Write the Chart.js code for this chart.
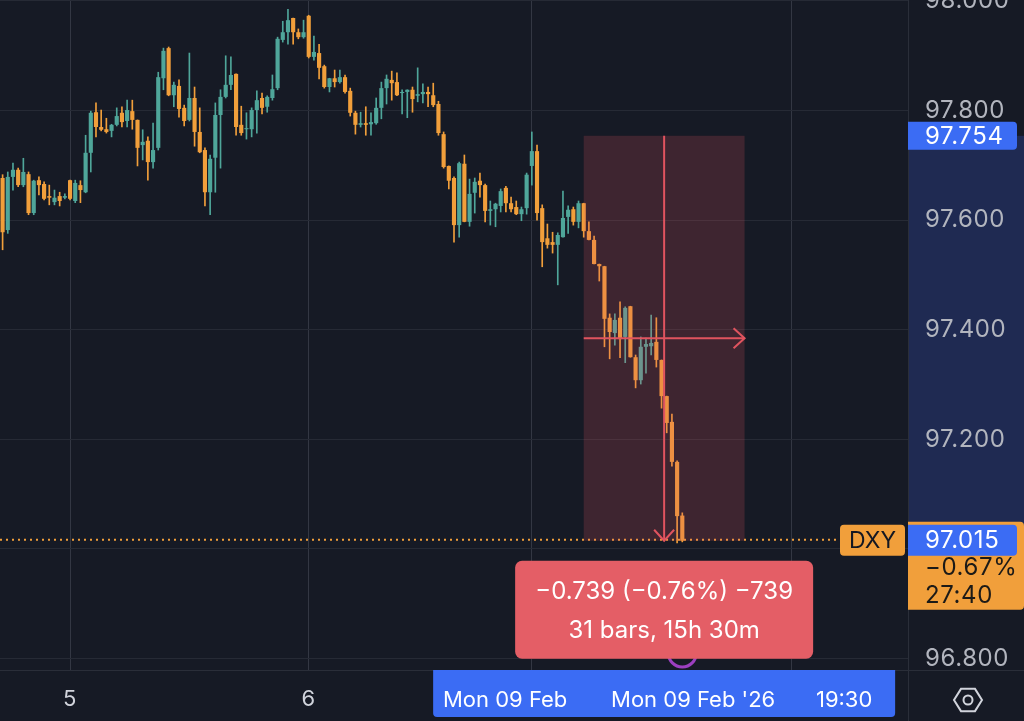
<!DOCTYPE html>
<html><head><meta charset="utf-8">
<script src="https://cdn.jsdelivr.net/npm/chart.js@4.4.1/dist/chart.umd.min.js"></script>
<style>html,body{margin:0;padding:0;background:#161a25;overflow:hidden}#wrap{width:1024px;height:721px;position:relative}</style>
</head><body><div id="wrap"><canvas id="c" width="1024" height="721"></canvas></div>
<script>
// ---- data (30-min DXY candles) ----
const opens = [97.677,97.582,97.679,97.692,97.664,97.684,97.613,97.673,97.666,97.644,
97.633,97.644,97.641,97.673,97.635,97.664,97.651,97.723,97.797,97.770,
97.766,97.763,97.774,97.796,97.781,97.799,97.783,97.737,97.745,97.706,
97.732,97.859,97.914,97.828,97.845,97.805,97.783,97.823,97.761,97.728,
97.651,97.714,97.792,97.825,97.847,97.867,97.774,97.766,97.766,97.801,
97.823,97.807,97.823,97.841,97.929,97.943,97.969,97.943,97.934,97.973,
97.898,97.905,97.881,97.843,97.859,97.852,97.861,97.836,97.796,97.774,
97.777,97.775,97.777,97.805,97.841,97.856,97.852,97.832,97.834,97.838,
97.827,97.830,97.834,97.828,97.812,97.757,97.699,97.677,97.591,97.703,
97.597,97.650,97.672,97.664,97.617,97.620,97.626,97.659,97.631,97.624,
97.611,97.622,97.699,97.726,97.622,97.567,97.560,97.555,97.569,97.606,
97.620,97.597,97.631,97.580,97.564,97.520,97.516,97.422,97.394,97.422,
97.387,97.443,97.350,97.308,97.369,97.370,97.378,97.345,97.279,97.232,97.159,97.061];
const highs = [97.683,97.688,97.704,97.695,97.713,97.688,97.673,97.679,97.670,97.664,
97.655,97.651,97.648,97.673,97.673,97.672,97.755,97.799,97.814,97.801,
97.786,97.775,97.805,97.807,97.819,97.819,97.783,97.765,97.752,97.777,
97.870,97.914,97.916,97.852,97.856,97.810,97.905,97.843,97.805,97.732,
97.719,97.814,97.838,97.900,97.898,97.867,97.808,97.796,97.805,97.836,
97.832,97.827,97.865,97.934,97.963,97.985,97.969,97.949,97.965,97.974,
97.936,97.921,97.883,97.859,97.874,97.874,97.865,97.841,97.799,97.797,
97.807,97.796,97.823,97.852,97.865,97.872,97.869,97.838,97.838,97.843,
97.878,97.849,97.843,97.850,97.817,97.761,97.699,97.679,97.706,97.719,
97.675,97.677,97.686,97.666,97.635,97.631,97.657,97.662,97.642,97.635,
97.624,97.686,97.761,97.737,97.628,97.593,97.578,97.577,97.653,97.626,
97.624,97.635,97.631,97.597,97.571,97.520,97.516,97.429,97.429,97.451,
97.442,97.443,97.354,97.387,97.385,97.427,97.422,97.345,97.279,97.246,97.161,97.066];
const lows = [97.546,97.576,97.655,97.661,97.661,97.610,97.610,97.646,97.637,97.628,
97.628,97.626,97.639,97.637,97.632,97.632,97.650,97.688,97.752,97.763,
97.759,97.752,97.772,97.770,97.770,97.766,97.699,97.710,97.673,97.695,
97.728,97.838,97.827,97.807,97.788,97.772,97.781,97.735,97.723,97.626,
97.610,97.651,97.695,97.823,97.838,97.755,97.755,97.748,97.752,97.759,
97.794,97.797,97.819,97.838,97.925,97.921,97.921,97.931,97.932,97.896,
97.892,97.858,97.841,97.834,97.843,97.850,97.832,97.790,97.757,97.770,
97.755,97.755,97.775,97.785,97.812,97.819,97.827,97.794,97.787,97.797,
97.816,97.814,97.807,97.807,97.755,97.695,97.657,97.560,97.569,97.597,
97.589,97.613,97.642,97.597,97.591,97.588,97.615,97.615,97.615,97.610,
97.599,97.611,97.664,97.600,97.515,97.549,97.540,97.482,97.569,97.576,
97.591,97.586,97.569,97.564,97.520,97.489,97.369,97.347,97.372,97.349,
97.340,97.350,97.294,97.301,97.321,97.354,97.332,97.257,97.212,97.151,97.011,97.013];
const closes = [97.578,97.679,97.692,97.664,97.688,97.613,97.672,97.664,97.639,97.641,
97.641,97.635,97.644,97.639,97.668,97.655,97.723,97.796,97.770,97.765,
97.761,97.774,97.790,97.779,97.801,97.783,97.732,97.743,97.706,97.728,
97.861,97.909,97.828,97.847,97.803,97.781,97.823,97.761,97.724,97.651,
97.712,97.792,97.825,97.847,97.865,97.770,97.759,97.768,97.801,97.819,
97.805,97.825,97.839,97.931,97.943,97.965,97.943,97.934,97.943,97.898,
97.907,97.878,97.843,97.859,97.852,97.861,97.834,97.796,97.774,97.777,
97.774,97.779,97.805,97.841,97.858,97.850,97.828,97.834,97.838,97.821,
97.830,97.834,97.830,97.810,97.759,97.697,97.672,97.591,97.704,97.597,
97.648,97.670,97.664,97.617,97.620,97.630,97.653,97.631,97.620,97.611,
97.620,97.683,97.726,97.613,97.560,97.555,97.555,97.573,97.604,97.619,
97.597,97.631,97.580,97.564,97.520,97.516,97.420,97.396,97.418,97.383,
97.440,97.350,97.308,97.369,97.374,97.376,97.345,97.279,97.230,97.159,97.060,97.015];

const totalSlots = 175;                 // bar slots visible across the plot (incl. empty future space)
const xGridIndex = [13, 59, 102, 152];  // day / session boundaries
const xTickLabels = ['5', '6', '', ''];
const yTickValues = [96.8, 97.0, 97.2, 97.4, 97.6, 97.8, 98.0];
const yMin = 96.7792, yMax = 98.0018;

const measureStartIdx = 112, measureEndIdx = 143;
const measureHigh = 97.754, measureLow = 97.015;
const measureText = ['\u22120.739 (\u22120.76%) \u2212739', '31 bars, 15h 30m'];
const lastPrice = 97.015;
const symbolName = 'DXY';
const changeText = ['\u22120.67%', '27:40'];
const timeLabels = ['Mon 09 Feb', "Mon 09 Feb '26", '19:30'];
const eventIdx = 131;

const UP = '#4fa69a', DOWN = '#f19f3b';
const FONT = 'Inter, "Noto Sans", sans-serif';
const PRICE_SIZE = 24;

const idx = opens.map((_, i) => i);
const colors = idx.map(i => closes[i] >= opens[i] ? UP : DOWN);

function rr(ctx, x, y, w, h, r) {
  ctx.beginPath();
  if (ctx.roundRect) ctx.roundRect(x, y, w, h, r); else ctx.rect(x, y, w, h);
}

const overlay = {
  id: 'overlay',
  beforeDraw(chart) {
    const {ctx, chartArea: a, scales: {y}} = chart;
    const y1 = y.getPixelForValue(measureHigh), y2 = y.getPixelForValue(measureLow);
    ctx.save();
    ctx.fillStyle = '#1f2a52';
    ctx.fillRect(a.right, y1, chart.width - a.right, y2 - y1);
    ctx.restore();
    ctx.letterSpacing = '0.6px';
  },
  afterDraw(chart) {
    const {ctx, chartArea: a, scales: {x, y}} = chart;
    const W = chart.width, H = chart.height;
    const xs = x.getPixelForValue(measureStartIdx), xe = x.getPixelForValue(measureEndIdx);
    const xm = (xs + xe) / 2;
    const yt = y.getPixelForValue(measureHigh), yb = y.getPixelForValue(measureLow);
    const ymid = (yt + yb) / 2;
    const yl = y.getPixelForValue(lastPrice);
    const dxyW = 65, dxyRight = a.right - 3, dxyLeft = dxyRight - dxyW;

    ctx.save();
    ctx.letterSpacing = '0px';
    // separators
    ctx.strokeStyle = '#2a2e39'; ctx.lineWidth = 1;
    ctx.beginPath(); ctx.moveTo(a.right + 0.5, a.bottom); ctx.lineTo(a.right + 0.5, H); ctx.stroke();
    ctx.beginPath(); ctx.moveTo(a.right, a.bottom + 0.5); ctx.lineTo(W, a.bottom + 0.5); ctx.stroke();

    // dotted last price line
    ctx.strokeStyle = DOWN; ctx.lineWidth = 2; ctx.setLineDash([2, 4]);
    ctx.beginPath(); ctx.moveTo(a.left, yl - 1); ctx.lineTo(dxyLeft, yl - 1); ctx.stroke();
    ctx.setLineDash([]);

    // measure rectangle
    ctx.fillStyle = 'rgba(226,84,96,0.2)';
    ctx.fillRect(xs, yt, xe - xs, yb - yt);
    ctx.strokeStyle = '#e0545f'; ctx.lineWidth = 2;
    ctx.beginPath(); ctx.moveTo(xm, yt); ctx.lineTo(xm, yb); ctx.stroke();
    ctx.beginPath(); ctx.moveTo(xm - 10, yb - 11); ctx.lineTo(xm, yb); ctx.lineTo(xm + 10, yb - 11); ctx.stroke();
    ctx.beginPath(); ctx.moveTo(xs, ymid); ctx.lineTo(xe, ymid); ctx.stroke();
    ctx.beginPath(); ctx.moveTo(xe - 11, ymid - 10); ctx.lineTo(xe, ymid); ctx.lineTo(xe - 11, ymid + 10); ctx.stroke();

    // event marker (mostly hidden)
    ctx.strokeStyle = '#9c3fc0'; ctx.lineWidth = 3;
    ctx.beginPath(); ctx.arc(x.getPixelForValue(eventIdx), a.bottom - 17, 14, 0, Math.PI * 2); ctx.stroke();

    // measure info box
    const bw = 298, bh = 98, bx = xm - bw / 2, by = yb + 20;
    ctx.fillStyle = '#e45e66';
    rr(ctx, bx, by, bw, bh, 7); ctx.fill();
    ctx.fillStyle = '#ffffff'; ctx.font = '24px ' + FONT; ctx.textAlign = 'center'; ctx.textBaseline = 'middle';
    ctx.fillText(measureText[0], xm, by + 31);
    ctx.fillText(measureText[1], xm, by + 70);

    // DXY label
    ctx.fillStyle = DOWN;
    rr(ctx, dxyLeft, yl - 16, dxyW, 31, 4); ctx.fill();
    ctx.fillStyle = '#131722'; ctx.font = '23px ' + FONT;
    ctx.fillText(symbolName, dxyLeft + dxyW / 2, yl);

    // axis badges
    ctx.textAlign = 'left';
    ctx.letterSpacing = '0.6px';
    ctx.fillStyle = '#3b6cf4';
    rr(ctx, a.right, yt - 14, 109, 28, [0, 4, 4, 0]); ctx.fill();
    ctx.fillStyle = '#ffffff'; ctx.font = PRICE_SIZE + 'px ' + FONT;
    ctx.fillText(measureHigh.toFixed(3), a.right + 17, yt + 1);

    ctx.fillStyle = DOWN;
    rr(ctx, a.right, yl - 19, W - a.right, 88, [0, 4, 4, 0]); ctx.fill();
    ctx.fillStyle = '#3b6cf4';
    rr(ctx, a.right, yl - 16, 109, 31, [0, 4, 4, 0]); ctx.fill();
    ctx.fillStyle = '#ffffff';
    ctx.fillText(lastPrice.toFixed(3), a.right + 17, yl);
    ctx.fillStyle = '#1c1a17';
    ctx.fillText(changeText[0], a.right + 17, yl + 27);
    ctx.fillText(changeText[1], a.right + 17, yl + 55);
    ctx.letterSpacing = '0px';

    // time-axis crosshair label
    const tw = 462, tx = xm - tw / 2;
    ctx.fillStyle = '#3b6cf4';
    rr(ctx, tx, a.bottom, tw, H - a.bottom - 4, [0, 0, 4, 4]); ctx.fill();
    ctx.fillStyle = '#ffffff'; ctx.textAlign = 'center'; ctx.font = '22px ' + FONT;
    const ty = a.bottom + 30;
    ctx.fillText(timeLabels[0], tx + 72, ty);
    ctx.fillText(timeLabels[1], tx + 260, ty);
    ctx.fillText(timeLabels[2], tx + 411, ty);

    // settings icon
    const cx = a.right + 60, cy = a.bottom + 30, R = 14;
    ctx.strokeStyle = '#d1d4dc'; ctx.lineWidth = 2;
    ctx.beginPath();
    for (let k = 0; k < 6; k++) {
      const ang = Math.PI / 3 * k;
      const px = cx + R * Math.cos(ang), py = cy + R * Math.sin(ang) * 0.92;
      if (k === 0) ctx.moveTo(px, py); else ctx.lineTo(px, py);
    }
    ctx.closePath(); ctx.stroke();
    ctx.beginPath(); ctx.arc(cx, cy, 4.5, 0, Math.PI * 2); ctx.stroke();
    ctx.restore();
  }
};

new Chart(document.getElementById('c'), {
  type: 'bar',
  data: {
    datasets: [
      { label: 'body', data: idx.map(i => ({x: i, y: [opens[i], closes[i]]})),
        backgroundColor: colors, borderWidth: 0, barPercentage: 0.8, categoryPercentage: 1,
        grouped: false, order: 1, minBarLength: 1 },
      { label: 'wick', data: idx.map(i => ({x: i, y: [lows[i], highs[i]]})),
        backgroundColor: colors, borderWidth: 0, barThickness: 1, grouped: false, order: 2 }
    ]
  },
  options: {
    responsive: false, animation: false, events: [],
    layout: {padding: 0},
    plugins: {legend: {display: false}, tooltip: {enabled: false}},
    scales: {
      x: {
        type: 'linear', min: -0.5, max: totalSlots - 0.5, offset: false,
        afterBuildTicks: s => { s.ticks = xGridIndex.map(v => ({value: v})); },
        afterFit: s => { s.height = 51; s.paddingLeft = 0; s.paddingRight = 0; },
        grid: {color: '#333743', drawTicks: false, offset: false},
        border: {color: '#2a2e39'},
        ticks: {color: '#d1d4dc', font: {family: FONT, size: 22}, padding: 16, maxRotation: 0, autoSkip: false,
                callback: (v, i) => xTickLabels[i]}
      },
      y: {
        position: 'right', min: yMin, max: yMax,
        afterBuildTicks: s => { s.ticks = yTickValues.map(v => ({value: v})); },
        afterFit: s => { s.width = 116; s.paddingTop = 0; s.paddingBottom = 0; },
        grid: {color: '#262a35', drawTicks: false},
        border: {color: '#2a2e39'},
        ticks: {color: '#b2b5be', font: {family: FONT, size: PRICE_SIZE}, padding: 17,
                callback: v => Number(v).toFixed(3)}
      }
    }
  },
  plugins: [overlay]
});
</script>
</body></html>
